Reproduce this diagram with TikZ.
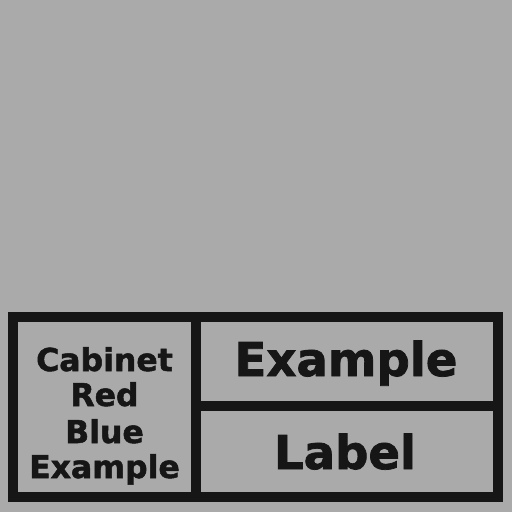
\documentclass[tikz,border=0pt]{standalone}
\usepackage{fontspec}
\newfontfamily\stencilfont[BoldFeatures={FakeBold=1.6}]{DejaVu Sans}
\definecolor{bg}{RGB}{170,170,170}
\definecolor{ink}{RGB}{22,22,22}
\tikzset{
  panel/.style={draw=ink, line width=10pt, fill=bg, rectangle, inner sep=0pt},
  bigtxt/.style={text=ink, anchor=base, inner sep=0pt, font=\stencilfont\bfseries\fontsize{46.6}{50}\selectfont},
  smalltxt/.style={text=ink, anchor=base, inner sep=0pt, font=\stencilfont\bfseries\fontsize{31.5}{34}\selectfont},
}
\begin{document}
\begin{tikzpicture}[x=1pt,y=-1pt]
\fill[bg] (0,0) rectangle (512,512);
\useasboundingbox (0,0) rectangle (512,512);
\node[panel, minimum width=183pt, minimum height=180pt] (left) at (104.5,407) {};
\node[panel, minimum width=302pt, minimum height=89pt] (topr) at (347,361.5) {};
\node[panel, minimum width=302pt, minimum height=91pt] (botr) at (347,451.5) {};
\node[bigtxt] (t1) at (346,376) {Example};
\node[bigtxt] (t2) at (345,469) {Label};
\node[smalltxt] (l1) at (104.5,371) {Cabinet};
\node[smalltxt] (l2) at (104.5,406) {Red};
\node[smalltxt] (l3) at (104.5,443) {Blue};
\node[smalltxt] (l4) at (104.5,478) {Example};
\end{tikzpicture}
\end{document}
